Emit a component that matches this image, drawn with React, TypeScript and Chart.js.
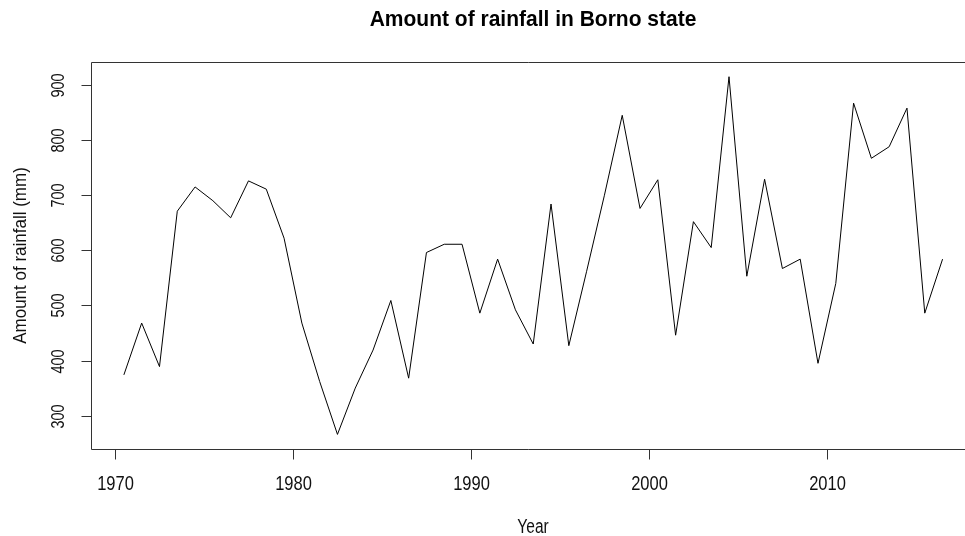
import React, { useEffect, useRef } from "react";
import { Chart, registerables } from "chart.js";

Chart.register(...registerables);

const years: number[] = [
  1970, 1971, 1972, 1973, 1974, 1975, 1976, 1977, 1978, 1979,
  1980, 1981, 1982, 1983, 1984, 1985, 1986, 1987, 1988, 1989,
  1990, 1991, 1992, 1993, 1994, 1995, 1996, 1997, 1998, 1999,
  2000, 2001, 2002, 2003, 2004, 2005, 2006, 2007, 2008, 2009,
  2010, 2011, 2012, 2013, 2014, 2015, 2016,
];

const rainfall: number[] = [
  374, 468, 389, 671, 715, 690, 659, 726, 711, 622,
  468, 362, 266, 350, 419, 509, 368, 596, 611, 611,
  486, 584, 492, 430, 684, 427, 562, 700, 845, 676,
  728, 446, 652, 605, 915, 553, 729, 567, 584, 395,
  540, 867, 767, 788, 858, 486, 584,
];

const xTicks: number[] = [1970, 1980, 1990, 2000, 2010];
const xTickLabels: string[] = ["1970", "1980", "1990", "2000", "2010"];
const yTicks: number[] = [300, 400, 500, 600, 700, 800, 900];
const yTickLabels: string[] = ["300", "400", "500", "600", "700", "800", "900"];

const TITLE = "Amount of rainfall in Borno state";
const X_TITLE = "Year";
const Y_TITLE = "Amount of rainfall (mm)";
const FONT = '"Liberation Sans", Arial, sans-serif';

const rPlotPlugin = {
  id: "rPlot",
  afterDraw(chart: any) {
    const { ctx, chartArea } = chart;
    const xs = chart.scales.x;
    const ys = chart.scales.y;
    const left = chartArea.left;
    const top = chartArea.top;
    const bottom = chartArea.bottom;
    const plotCenter = (left + 975) / 2;
    ctx.save();
    // box
    ctx.strokeStyle = "#333";
    ctx.lineWidth = 1;
    ctx.beginPath();
    ctx.moveTo(chartArea.right + 20, Math.round(top) + 0.5);
    ctx.lineTo(Math.round(left) + 0.5, Math.round(top) + 0.5);
    ctx.lineTo(Math.round(left) + 0.5, Math.round(bottom) + 0.5);
    ctx.lineTo(chartArea.right + 20, Math.round(bottom) + 0.5);
    ctx.stroke();

    ctx.fillStyle = "#111";
    // x ticks
    xTicks.forEach((v, i) => {
      const px = Math.round(xs.getPixelForValue(v)) + 0.5;
      ctx.beginPath();
      ctx.moveTo(px, Math.round(bottom) + 0.5);
      ctx.lineTo(px, Math.round(bottom) + 10.5);
      ctx.stroke();
      ctx.save();
      ctx.translate(px, 490);
      ctx.scale(1, 1.25);
      ctx.font = `16.5px ${FONT}`;
      ctx.textAlign = "center";
      ctx.textBaseline = "alphabetic";
      ctx.fillText(xTickLabels[i], 0, 0);
      ctx.restore();
    });
    // y ticks
    yTicks.forEach((v, i) => {
      const py = Math.round(ys.getPixelForValue(v)) + 0.5;
      ctx.beginPath();
      ctx.moveTo(Math.round(left) + 0.5, py);
      ctx.lineTo(Math.round(left) - 9.5, py);
      ctx.stroke();
      ctx.save();
      ctx.translate(64, py);
      ctx.rotate(-Math.PI / 2);
      ctx.scale(1, 1.3);
      ctx.font = `14.5px ${FONT}`;
      ctx.textAlign = "center";
      ctx.textBaseline = "alphabetic";
      ctx.fillText(yTickLabels[i], 0, 0);
      ctx.restore();
    });
    // title
    ctx.save();
    ctx.translate(plotCenter, 25.5);
    ctx.scale(1, 1.08);
    ctx.font = `bold 21px ${FONT}`;
    ctx.textAlign = "center";
    ctx.fillStyle = "#000";
    ctx.fillText(TITLE, 0, 0);
    ctx.restore();
    // x title
    ctx.save();
    ctx.translate(plotCenter, 533);
    ctx.scale(1, 1.3);
    ctx.font = `15.5px ${FONT}`;
    ctx.textAlign = "center";
    ctx.fillText(X_TITLE, 0, 0);
    ctx.restore();
    // y title
    ctx.save();
    ctx.translate(26, (top + bottom) / 2);
    ctx.rotate(-Math.PI / 2);
    ctx.scale(1, 1.1);
    ctx.font = `17px ${FONT}`;
    ctx.textAlign = "center";
    ctx.fillText(Y_TITLE, 0, 0);
    ctx.restore();

    ctx.restore();
  },
};

export default function App() {
  const canvasRef = useRef<HTMLCanvasElement | null>(null);

  useEffect(() => {
    const canvas = canvasRef.current;
    if (!canvas) return;
    const points = years.map((yr, i) => ({ x: yr + 0.5, y: rainfall[i] }));
    const chart = new Chart(canvas, {
      type: "line",
      data: {
        datasets: [
          {
            data: points,
            borderColor: "#000",
            borderWidth: 1,
            pointRadius: 0,
            tension: 0,
            fill: false,
          },
        ],
      },
      options: {
        animation: false,
        responsive: false,
        maintainAspectRatio: false,
        devicePixelRatio: 1,
        layout: { padding: { left: 0, top: 62, right: 0, bottom: 0 } },
        plugins: {
          legend: { display: false },
          title: { display: false },
          tooltip: { enabled: false },
        },
        scales: {
          x: {
            type: "linear",
            min: 1968.652,
            max: 2017.76,
            grid: { display: false },
            border: { display: false },
            ticks: { display: false },
            afterFit: (scale: any) => {
              scale.height = 87;
            },
          },
          y: {
            type: "linear",
            min: 239.5,
            max: 941.7,
            grid: { display: false },
            border: { display: false },
            ticks: { display: false },
            afterFit: (scale: any) => {
              scale.width = 91;
            },
          },
        },
      },
      plugins: [rPlotPlugin],
    });
    return () => chart.destroy();
  }, []);

  return (
    <div style={{ position: "absolute", left: 0, top: 0, width: 965, height: 536, background: "#fff" }}>
      <canvas ref={canvasRef} width={965} height={536} style={{ display: "block", width: 965, height: 536 }} />
    </div>
  );
}
